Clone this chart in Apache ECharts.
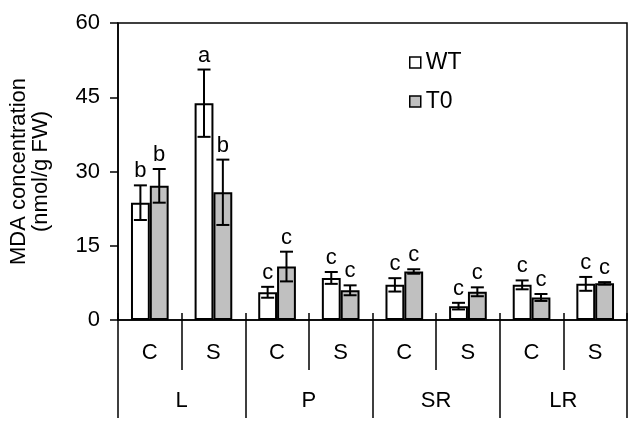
<!DOCTYPE html>
<html>
<head>
<meta charset="utf-8">
<script src="https://cdn.jsdelivr.net/npm/echarts@6/dist/echarts.min.js"></script>
<style>
html,body{margin:0;padding:0;background:#fff;}
#chart{width:631px;height:422px;}
</style>
</head>
<body>
<div id="chart"></div>
<script>
const categories = ['C', 'S', 'C', 'S', 'C', 'S', 'C', 'S'];
const groups = ['L', 'P', 'SR', 'LR'];
const yTicks = [0, 15, 30, 45, 60];
const wtValues = [23.7, 43.8, 5.6, 8.5, 7.1, 2.8, 7.1, 7.3];
const wtErrors = [3.5, 6.8, 1.1, 1.2, 1.35, 0.67, 0.9, 1.4];
const wtLetters = ['b', 'a', 'c', 'c', 'c', 'c', 'c', 'c'];
const t0Values = [27.1, 25.8, 10.8, 6.0, 9.8, 5.7, 4.55, 7.4];
const t0Errors = [3.4, 6.6, 3.0, 1.0, 0.45, 0.9, 0.7, 0.25];
const t0Letters = ['b', 'b', 'c', 'c', 'c', 'c', 'c', 'c'];

const FONT = '"Liberation Sans", Arial, sans-serif';
const BAR_FRAC = 0.296;

function errorRenderer(letters, side) {
  return function (params, api) {
    const i = api.value(0);
    const v = api.value(1);
    const e = api.value(2);
    const bw = api.size([1, 0])[0] * BAR_FRAC;
    const x = api.coord([i, v])[0] + side * bw / 2;
    const top = api.coord([i, v + e])[1];
    const bot = api.coord([i, v - e])[1];
    const cap = 6.5;
    const style = { stroke: '#000', lineWidth: 2 };
    return {
      type: 'group',
      children: [
        { type: 'line', shape: { x1: x, y1: top, x2: x, y2: bot }, style: style },
        { type: 'line', shape: { x1: x - cap, y1: top, x2: x + cap, y2: top }, style: style },
        { type: 'line', shape: { x1: x - cap, y1: bot, x2: x + cap, y2: bot }, style: style },
        { type: 'text', style: { text: letters[params.dataIndex], x: x, y: top - 3,
            align: 'center', verticalAlign: 'bottom', fontSize: 22, fontFamily: FONT, fill: '#000' } }
      ]
    };
  };
}

const chart = echarts.init(document.getElementById('chart'), null, { renderer: 'canvas' });
chart.setOption({
  animation: false,
  backgroundColor: '#fff',
  textStyle: { fontFamily: FONT, color: '#000' },
  grid: { left: 113, right: 4, top: 23, bottom: 102, show: true, borderColor: '#000', borderWidth: 1.5, backgroundColor: 'transparent' },
  legend: {
    orient: 'vertical', left: 404, top: 46, itemWidth: 11, itemHeight: 11, itemGap: 16,
    icon: 'rect',
    itemStyle: { borderWidth: 1.5 },
    textStyle: { fontSize: 23, lineHeight: 22, fontFamily: FONT, color: '#000' },
    data: ['WT', 'T0']
  },
  xAxis: [
    {
      type: 'category', data: categories, position: 'bottom', gridIndex: 0,
      axisLine: { show: true, lineStyle: { color: '#000', width: 1.5 } },
      axisTick: { show: true, length: 50, interval: 0, lineStyle: { color: '#000', width: 1.5 } },
      axisLabel: { fontSize: 22, color: '#000', margin: 22, interval: 0, fontFamily: FONT },
      splitLine: { show: false }
    },
    {
      type: 'category', data: groups, position: 'bottom', gridIndex: 0,
      axisLine: { show: false },
      axisTick: { show: true, length: 98, interval: 0, lineStyle: { color: '#000', width: 1.5 } },
      axisLabel: { fontSize: 22, color: '#000', margin: 70, interval: 0, fontFamily: FONT },
      splitLine: { show: false }
    },
    {
      type: 'category', data: categories, position: 'bottom', gridIndex: 0,
      axisLine: { show: false },
      axisTick: { show: true, inside: true, length: 7, interval: 0, lineStyle: { color: '#000', width: 1.5 } },
      axisLabel: { show: false },
      splitLine: { show: false }
    }
  ],
  yAxis: {
    type: 'value', min: yTicks[0], max: yTicks[yTicks.length - 1], interval: 15,
    name: 'MDA concentration\n(nmol/g FW)', nameLocation: 'middle', nameGap: 66,
    nameTextStyle: { fontSize: 22, lineHeight: 22, color: '#000', fontFamily: FONT },
    axisLine: { show: true, lineStyle: { color: '#000', width: 1.5 } },
    axisTick: { show: true, length: 8, lineStyle: { color: '#000', width: 1.5 } },
    axisLabel: { fontSize: 22, color: '#000', margin: 18, fontFamily: FONT },
    splitLine: { show: false }
  },
  series: [
    {
      name: 'WT', type: 'bar', xAxisIndex: 0, data: wtValues, barWidth: (BAR_FRAC * 100) + '%', barGap: '0%',
      itemStyle: { color: '#ffffff', borderColor: '#000', borderWidth: 2 }
    },
    {
      name: 'T0', type: 'bar', xAxisIndex: 0, data: t0Values, barWidth: (BAR_FRAC * 100) + '%', barGap: '0%',
      itemStyle: { color: '#c0c0c0', borderColor: '#000', borderWidth: 2 }
    },
    {
      type: 'custom', xAxisIndex: 0, z: 5, renderItem: errorRenderer(wtLetters, -1),
      data: wtValues.map((v, i) => [i, v, wtErrors[i]])
    },
    {
      type: 'custom', xAxisIndex: 0, z: 5, renderItem: errorRenderer(t0Letters, 1),
      data: t0Values.map((v, i) => [i, v, t0Errors[i]])
    }
  ]
});
</script>
</body>
</html>
